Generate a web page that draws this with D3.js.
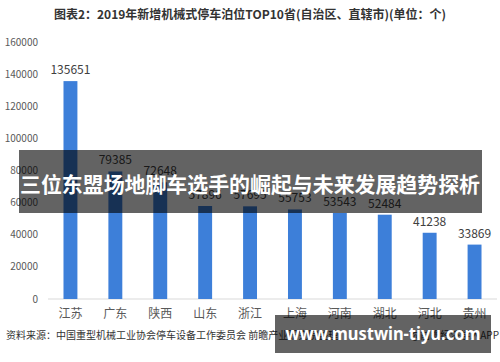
<!DOCTYPE html>
<html lang="zh">
<head>
    <meta charset="UTF-8">
    <title>2019年新增机械式停车泊位TOP10省</title>
    <script src="https://d3js.org/d3.v7.min.js"></script>
    <style>
        body {
            margin: 0;
            background: #fff;
            font-family: "Noto Sans CJK SC", "Noto Sans", sans-serif;
        }
        .tick-label { fill: #595959; font-size: 10px; }
        .cat-label { fill: #595959; font-size: 12px; }
        .val-label { fill: #404040; font-size: 12px; }
    </style>
</head>
<body>
    <svg id="chart" width="500" height="362"></svg>
    <script>
        const provinces = ["江苏", "广东", "陕西", "山东", "浙江", "上海", "河南", "湖北", "河北", "贵州"];
        const slots = [135651, 79385, 72648, 57896, 57695, 55753, 53543, 52484, 41238, 33869];
        const yTicks = [0, 20000, 40000, 60000, 80000, 100000, 120000, 140000, 160000];

        const svg = d3.select("#chart");
        const W = 500, H = 362;

        svg.append("rect").attr("width", W).attr("height", H).attr("fill", "#fff");

        const x = d3.scaleBand()
            .domain(provinces)
            .range([48, 497])
            .paddingInner(0.69)
            .paddingOuter(0.345);

        const y = d3.scaleLinear()
            .domain([0, 160000])
            .range([299, 42]);

        // 标题
        svg.append("text")
            .attr("x", 250).attr("y", 19)
            .attr("text-anchor", "middle")
            .attr("font-size", 12).attr("font-weight", "bold")
            .attr("fill", "#333")
            .text("图表2：2019年新增机械式停车泊位TOP10省(自治区、直辖市)(单位：个)");

        // y轴刻度
        svg.selectAll(".tick-label")
            .data(yTicks)
            .join("text")
            .attr("class", "tick-label")
            .attr("x", 38)
            .attr("y", d => y(d) + 3.5)
            .attr("text-anchor", "end")
            .text(d => d);

        // 底线
        svg.append("line")
            .attr("x1", 48).attr("x2", 497)
            .attr("y1", y(0)).attr("y2", y(0))
            .attr("stroke", "#d9d9d9").attr("stroke-width", 1);

        // 柱子
        svg.selectAll(".bar")
            .data(provinces)
            .join("rect")
            .attr("class", "bar")
            .attr("x", d => x(d))
            .attr("width", x.bandwidth())
            .attr("y", (d, i) => y(slots[i]))
            .attr("height", (d, i) => y(0) - y(slots[i]))
            .attr("fill", "#3d7fd9");

        svg.selectAll(".val-label")
            .data(provinces)
            .join("text")
            .attr("class", "val-label")
            .attr("x", d => x(d) + x.bandwidth() / 2)
            .attr("y", (d, i) => y(slots[i]) - 7)
            .attr("text-anchor", "middle")
            .text((d, i) => slots[i]);

        svg.selectAll(".cat-label")
            .data(provinces)
            .join("text")
            .attr("class", "cat-label")
            .attr("x", d => x(d) + x.bandwidth() / 2)
            .attr("y", 318)
            .attr("text-anchor", "middle")
            .text(d => d);

        // 来源
        svg.append("text")
            .attr("x", 6).attr("y", 339)
            .attr("font-size", 10).attr("fill", "#333")
            .text("资料来源：中国重型机械工业协会停车设备工作委员会 前瞻产业研究院整理");
        svg.append("text")
            .attr("x", 499).attr("y", 339)
            .attr("text-anchor", "end")
            .attr("font-size", 10).attr("fill", "#333")
            .text("@前瞻经济学人APP");

        // 遮罩横幅
        svg.append("rect")
            .attr("x", 19).attr("y", 150).attr("width", 463).attr("height", 63)
            .attr("fill", "rgba(0,0,0,0.61)");
        svg.append("text")
            .attr("x", 250).attr("y", 192)
            .attr("text-anchor", "middle")
            .attr("font-size", 21).attr("font-weight", "bold")
            .attr("textLength", 460).attr("lengthAdjust", "spacingAndGlyphs")
            .attr("fill", "#fff")
            .text("三位东盟场地脚车选手的崛起与未来发展趋势探析");

        svg.append("rect")
            .attr("x", 275).attr("y", 315).attr("width", 216).attr("height", 38)
            .attr("fill", "rgba(0,0,0,0.61)");
        svg.append("text")
            .attr("x", 383).attr("y", 340)
            .attr("text-anchor", "middle")
            .attr("font-size", 17).attr("font-weight", "bold")
            .attr("font-family", "Noto Sans, sans-serif")
            .attr("textLength", 195).attr("lengthAdjust", "spacingAndGlyphs")
            .attr("fill", "#fff")
            .text("www.mustwin-tiyu.com");
    </script>
</body>
</html>
